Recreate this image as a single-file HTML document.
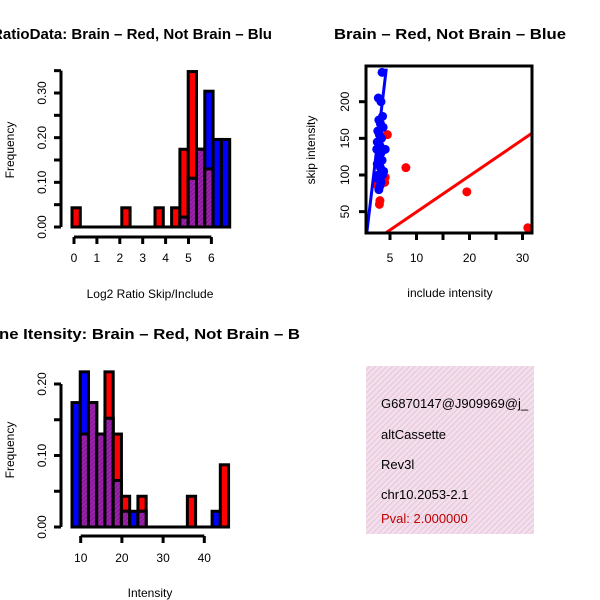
<!DOCTYPE html>
<html><head><meta charset="utf-8"><style>
body{margin:0;background:#fff;}
svg{display:block;font-family:"Liberation Sans",sans-serif;}
</style></head><body>
<svg id="c" width="600" height="600" viewBox="0 0 600 600">
<defs>
<pattern id="hatch" width="4" height="4" patternUnits="userSpaceOnUse" patternTransform="rotate(45)">
<rect width="4" height="4" fill="#f8dcf2"/><rect width="1.2" height="4" fill="#ddd0d0"/>
</pattern>
<pattern id="purp" width="3" height="3" patternUnits="userSpaceOnUse" patternTransform="rotate(45)">
<rect width="3" height="3" fill="#a020b0"/><rect width="1" height="3" fill="#7a1a8a"/>
</pattern>
<clipPath id="sclip"><rect x="366" y="66" width="166" height="167"/></clipPath>
</defs>
<g id="p1"></g>
<g id="p2"></g>
<g id="p3"></g>
<g>
<rect x="366" y="366" width="168" height="168" fill="url(#hatch)"/>
<text x="381" y="408" font-size="13">G6870147@J909969@j_</text>
<text x="381" y="439" font-size="13">altCassette</text>
<text x="381" y="469" font-size="13">Rev3l</text>
<text x="381" y="499" font-size="13">chr10.2053-2.1</text>
<text x="381" y="523" font-size="13" fill="#c00000">Pval: 2.000000</text>
</g>
</svg>
<script>
// Histogram 1 data (bin index -> frequency)
const h1Bins=[0,6,10,12,13,14,15,16,17,18];
const h1Red=[0.043,0.043,0.043,0.043,0.174,0.348,0.174,0.13,0,0];
const h1Blue=[0,0,0,0,0.022,0.109,0.174,0.304,0.196,0.196];
const h1XTicks=[0,1,2,3,4,5,6];
const h1YTicks=[0,0.05,0.10,0.15,0.20,0.25,0.30,0.35];
// Histogram 2 data
const h2Bins=[0,1,2,3,4,5,6,7,8,14,17,18];
const h2Red=[0,0.13,0.174,0.13,0.217,0.13,0.043,0,0.043,0.043,0,0.087];
const h2Blue=[0.174,0.217,0.174,0.13,0.152,0.065,0.022,0.022,0.022,0,0.022,0];
const h2XTicks=[10,20,30,40];
const h2YTicks=[0,0.05,0.10,0.15,0.20];
// Scatter data
const blueX=[3.5,2.8,3.3,3.6,2.9,3.2,3.7,2.7,3.0,3.4,2.6,3.1,2.5,3.3,4.1,2.9,3.5,2.6,3.2,3.8,2.8,3.0,3.6,2.7,3.3,3.1,2.9];
const blueY=[240,205,200,180,175,170,165,160,155,150,145,140,135,130,135,125,120,115,110,105,100,97,100,95,90,85,80];
const redX=[4.5,8,19.5,31,4.1,3.0,3.1,3.0,2.5,4.0];
const redY=[155,110,77,28,97,88,65,60,87,90];
const blueLine=[[0.6,20],[4.3,245]];
const redLine=[[4,20],[32,158]];
const sXTicks=[5,10,15,20,25,30];
const sXLabels=["5","10","","20","","30"];
const sYTicks=[50,100,150,200];

const NS="http://www.w3.org/2000/svg";
function mk(p,t,a){const e=document.createElementNS(NS,t);for(const k in a)e.setAttribute(k,a[k]);p.appendChild(e);return e;}
function txt(p,x,y,s,size,rot,anchor,bold){const e=mk(p,"text",{x:x,y:y,"font-size":size,"text-anchor":anchor||"middle"});if(rot)e.setAttribute("transform","rotate(-90 "+x+" "+y+")");if(bold)e.setAttribute("font-weight","bold");e.textContent=s;return e;}

function hist(g,bins,red,blue,x0px,bw,yScale,base){
  bins.forEach((b,i)=>{
    const x=x0px+b*bw, r=red[i], bl=blue[i], m=Math.min(r,bl);
    if(r>0){const e=mk(g,"rect",{x:x,y:yScale(r),width:bw,height:base-yScale(r),fill:"red",stroke:"#000","stroke-width":3});

}
    if(bl>0){const e=mk(g,"rect",{x:x,y:yScale(bl),width:bw,height:base-yScale(bl),fill:"blue",stroke:"#000","stroke-width":3});

}
    if(m>0){const e=mk(g,"rect",{x:x,y:yScale(m),width:bw,height:base-yScale(m),fill:"url(#purp)",stroke:"#000","stroke-width":3});

}
  });
}
function yAxis(g,ticks,ys,labelEvery,fmt){
  mk(g,"line",{x1:61,x2:61,y1:ys(ticks[ticks.length-1]),y2:ys(ticks[0]),stroke:"#000","stroke-width":3});
  ticks.forEach((t,i)=>{mk(g,"line",{x1:54,x2:61,y1:ys(t),y2:ys(t),stroke:"#000","stroke-width":3});
    if(i%labelEvery==0){const e=txt(g,46,ys(t),fmt(t),12,true);}});
}
function title(g,x,y,s,len){const e=mk(g,"text",{x:x,y:y,"font-size":15,"font-weight":"bold",textLength:len,lengthAdjust:"spacingAndGlyphs"});e.textContent=s;return e;}
// Plot 1
(function(){
  const g=document.getElementById("p1");
  const ys=v=>227-v*446.7; const xs=v=>74+v*22.9;
  hist(g,h1Bins,h1Red,h1Blue,72,8.3,ys,227);
  mk(g,"line",{x1:72,x2:230,y1:227,y2:227,stroke:"#000","stroke-width":3});
  yAxis(g,h1YTicks,ys,2,t=>t.toFixed(2));
  mk(g,"line",{x1:xs(0),x2:xs(6),y1:237,y2:237,stroke:"#000","stroke-width":3});
  h1XTicks.forEach(t=>{mk(g,"line",{x1:xs(t),x2:xs(t),y1:237,y2:244,stroke:"#000","stroke-width":3});
    const e=txt(g,xs(t),262,String(t),12);});
  let e=txt(g,150,298,"Log2 Ratio Skip/Include",12);
  e=txt(g,14,150,"Frequency",12,true);
  e=title(g,-8,39,"RatioData: Brain \u2013 Red, Not Brain \u2013 Blu",280);
})();
// Plot 3
(function(){
  const g=document.getElementById("p3");
  const ys=v=>527-v*715; const xs=v=>80.7+(v-10)*4.12;
  hist(g,h2Bins,h2Red,h2Blue,72,8.24,ys,527);
  mk(g,"line",{x1:72,x2:230,y1:527,y2:527,stroke:"#000","stroke-width":3});
  yAxis(g,h2YTicks,ys,2,t=>t.toFixed(2));
  mk(g,"line",{x1:xs(10),x2:xs(40),y1:536,y2:536,stroke:"#000","stroke-width":3});
  h2XTicks.forEach(t=>{mk(g,"line",{x1:xs(t),x2:xs(t),y1:536,y2:543,stroke:"#000","stroke-width":3});
    const e=txt(g,xs(t),562,String(t),12);});
  let e=txt(g,150,597,"Intensity",12);
  e=txt(g,14,450,"Frequency",12,true);
  e=title(g,-1,339,"ne Itensity: Brain \u2013 Red, Not Brain \u2013 B",301);
})();
// Plot 2 scatter
(function(){
  const g=document.getElementById("p2");
  const xs=v=>363.5+v*5.3; const ys=v=>248.3-v*0.733;
  const c=mk(g,"g",{"clip-path":"url(#sclip)"});
  redX.forEach((x,i)=>{const e=mk(c,"circle",{cx:xs(x),cy:ys(redY[i]),r:4.5,fill:"red"});

});
  blueX.forEach((x,i)=>{const e=mk(c,"circle",{cx:xs(x),cy:ys(blueY[i]),r:4.5,fill:"blue"});

});
  let l=mk(c,"line",{x1:xs(blueLine[0][0]),y1:ys(blueLine[0][1]),x2:xs(blueLine[1][0]),y2:ys(blueLine[1][1]),stroke:"blue","stroke-width":3});
  
  l=mk(c,"line",{x1:xs(redLine[0][0]),y1:ys(redLine[0][1]),x2:xs(redLine[1][0]),y2:ys(redLine[1][1]),stroke:"red","stroke-width":3});
  
  mk(g,"rect",{x:366,y:66,width:166,height:167,fill:"none",stroke:"#000","stroke-width":3});
  sYTicks.forEach(t=>{mk(g,"line",{x1:359,x2:366,y1:ys(t),y2:ys(t),stroke:"#000","stroke-width":3});
    const e=txt(g,349,ys(t),String(t),12,true);});
  sXTicks.forEach((t,i)=>{mk(g,"line",{x1:xs(t),x2:xs(t),y1:233,y2:240,stroke:"#000","stroke-width":3});
    if(sXLabels[i]){const e=txt(g,xs(t),262,sXLabels[i],12);}});
  let e=txt(g,450,297,"include intensity",12);
  e=txt(g,315,150,"skip intensity",12,true);
  e=title(g,334,39,"Brain \u2013 Red, Not Brain \u2013 Blue",232);
})();
</script>
</body></html>
